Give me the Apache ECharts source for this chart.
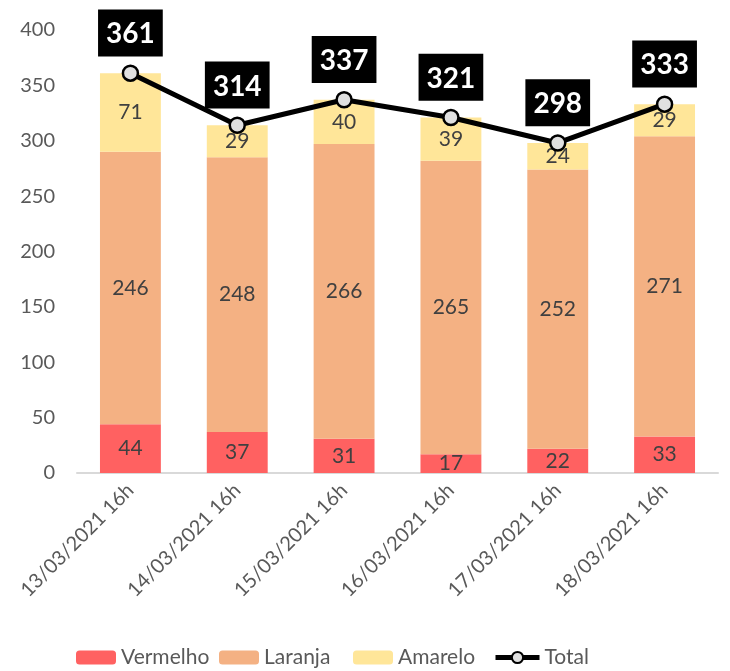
<!DOCTYPE html>
<html><head><meta charset="utf-8">
<script src="https://cdn.jsdelivr.net/npm/echarts@6/dist/echarts.min.js"></script>
<style>html,body{margin:0;padding:0;background:#fff}#c{width:730px;height:671px}</style>
</head><body><div id="c"></div>
<script>
const categories = ['13/03/2021 16h','14/03/2021 16h','15/03/2021 16h','16/03/2021 16h','17/03/2021 16h','18/03/2021 16h'];
const vermelho = [44,37,31,17,22,33];
const laranja = [246,248,266,265,252,271];
const amarelo = [71,29,40,39,24,29];
const total = [361,314,337,321,298,333];
const yTicks = [0,50,100,150,200,250,300,350,400];
const seriesNames = ['Vermelho','Laranja','Amarelo','Total'];

const font = 'Lato, "Open Sans", sans-serif';
const chart = echarts.init(document.getElementById('c'));
const barLabel = {show:true, position:'inside', color:'#404040', fontSize:21, fontFamily:font};
const legendLefts = [71, 214, 348, 488];
const legends = seriesNames.map((n, i) => ({
  bottom: -2, left: legendLefts[i], itemWidth: i === 3 ? 44 : 40, itemHeight: 14, itemGap: 5,
  textStyle: {fontSize: 21, color: '#595959', fontFamily: font},
  lineStyle: i === 3 ? {width: 5, color: '#000'} : undefined,
  data: [n]
}));
chart.setOption({
  animation:false,
  grid:{left:77, right:12, top:30, bottom:198, containLabel:false},
  legend: legends,
  xAxis:{type:'category', data:categories,
    axisLine:{lineStyle:{color:'#D9D9D9', width:2}}, axisTick:{show:false},
    axisLabel:{rotate:45, fontSize:20, color:'#595959', fontFamily:font, margin:14, interval:0}},
  yAxis:{type:'value', min:yTicks[0], max:yTicks[yTicks.length-1], interval:50,
    splitLine:{show:false}, axisLine:{show:false}, axisTick:{show:false},
    axisLabel:{fontSize:20, color:'#595959', fontFamily:font, margin:22}},
  series:[
    {name:seriesNames[0], type:'bar', stack:'a', data:vermelho, barCategoryGap:'43%', itemStyle:{color:'#FF6161'}, label:barLabel},
    {name:seriesNames[1], type:'bar', stack:'a', data:laranja, itemStyle:{color:'#F4B183'}, label:barLabel},
    {name:seriesNames[2], type:'bar', stack:'a', data:amarelo, itemStyle:{color:'#FFE699'}, label:barLabel},
    {name:seriesNames[3], type:'line', data:total, symbol:'circle', symbolSize:15,
      lineStyle:{color:'#000', width:5}, itemStyle:{color:'#E0E0E0', borderColor:'#000', borderWidth:2.5},
      label:{show:true, position:'top', distance:8, backgroundColor:'#000', color:'#fff',
        fontWeight:'bold', fontSize:28, lineHeight:32, fontFamily:font, padding:[9,8,6,8]}, z:10}
  ]
});
</script></body></html>
